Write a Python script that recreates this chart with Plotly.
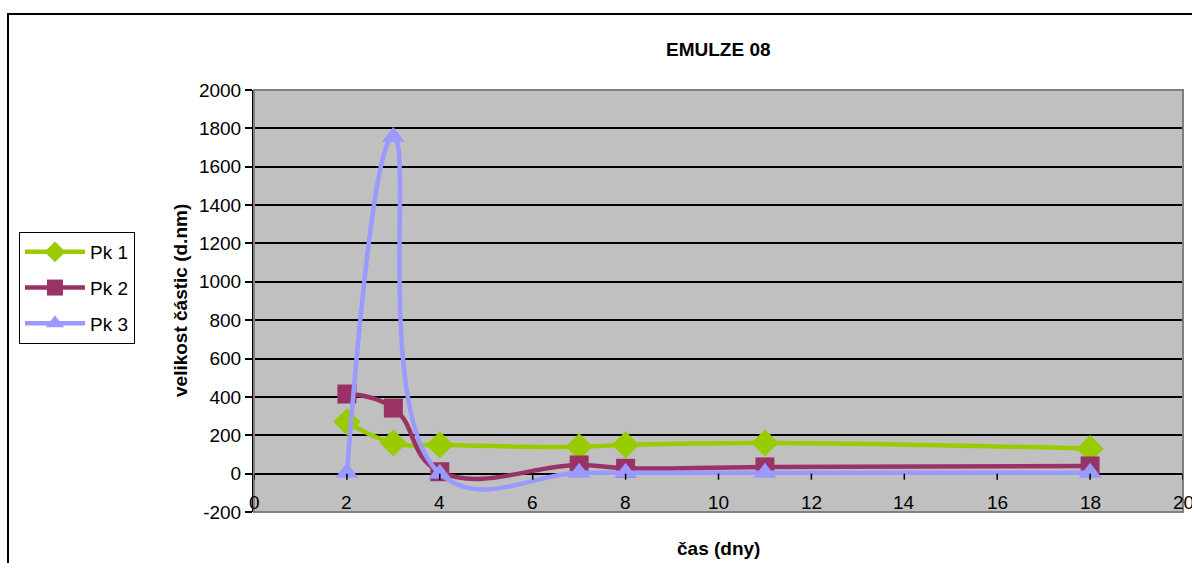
import plotly.graph_objects as go

# Measurement days and particle sizes per peak
days = [2, 3, 4, 7, 8, 11, 18]
pk1 = [270, 160, 150, 140, 150, 160, 130]
pk2 = [415, 342, 10, 45, 28, 35, 40]
pk3 = [5, 1755, 0, 5, 5, 5, 5]

series_names = ["Pk 1", "Pk 2", "Pk 3"]
series_colors = ["#99CC00", "#993366", "#9999FF"]
series_symbols = ["diamond", "square", "triangle-up"]
series_sizes = [21, 19, 20]

x_ticks = list(range(0, 21, 2))
x_labels = [str(v) for v in x_ticks]
y_ticks = list(range(-200, 2001, 200))
y_labels = [str(v) for v in y_ticks]

FONT = "Liberation Sans, Arial, sans-serif"
FS = 19

fig = go.Figure()
for name, vals, col, sym, sz in zip(series_names, [pk1, pk2, pk3],
                                    series_colors, series_symbols, series_sizes):
    fig.add_trace(go.Scatter(
        x=days, y=vals, name=name, mode="lines+markers", legendgroup=name,
        line=dict(color=col, width=4.5, shape="spline", smoothing=1.3),
        marker=dict(color=col, symbol=sym, size=sz, line=dict(width=0)),
    ))

shapes = []
# gray frame around the plot area
shapes.append(dict(type="rect", xref="paper", yref="paper", x0=0, x1=1, y0=0, y1=1,
                   line=dict(color="#808080", width=2), layer="above"))
# outer chart border
shapes.append(dict(type="rect", xref="paper", yref="paper",
                   x0=-0.2648, x1=1.2, y0=-0.3, y1=1.180,
                   line=dict(color="black", width=2)))
# small tick marks on the zero line
for t in x_ticks:
    shapes.append(dict(type="line", xref="x", yref="y", x0=t, x1=t,
                       ysizemode="pixel", yanchor=0, y0=0, y1=-6,
                       line=dict(color="black", width=1.5), layer="above"))

annotations = [
    dict(text="<b>EMULZE 08</b>", xref="paper", yref="paper",
         x=0.5, y=(512 - 50) / 422, showarrow=False,
         font=dict(family=FONT, size=FS), xanchor="center", yanchor="middle"),
    dict(text="<b>čas (dny)</b>", xref="paper", yref="paper",
         x=0.5, y=(512 - 548) / 422, showarrow=False,
         font=dict(family=FONT, size=FS), xanchor="center", yanchor="middle"),
    dict(text="<b>velikost částic (d.nm)</b>", xref="paper", yref="paper",
         x=(180 - 254) / 929, y=0.5, showarrow=False, textangle=-90,
         font=dict(family=FONT, size=FS), xanchor="center", yanchor="middle"),
]
# x tick labels sit just inside the bottom edge of the plot area
for t, lab in zip(x_ticks, x_labels):
    annotations.append(dict(text=lab, xref="x", yref="paper", x=t, y=0,
                            yshift=-3, showarrow=False, xanchor="center",
                            yanchor="bottom", font=dict(family=FONT, size=FS)))

fig.update_layout(
    width=1192, height=563,
    margin=dict(l=254, r=9, t=90, b=51),
    paper_bgcolor="white", plot_bgcolor="#C0C0C0",
    font=dict(family=FONT, size=FS, color="black"),
    showlegend=True,
    legend=dict(x=-0.253, y=0.6635, xanchor="left", yanchor="top",
                bgcolor="white", bordercolor="black", borderwidth=1,
                font=dict(family=FONT, size=FS), tracegroupgap=8,
                itemwidth=60),
    shapes=shapes,
    annotations=annotations,
)

fig.update_xaxes(range=[0, 20], tickvals=x_ticks, showticklabels=False, ticks="",
                 showgrid=False, zeroline=False, showline=False)
fig.update_yaxes(range=[-200, 2000], tickvals=y_ticks, ticktext=y_labels,
                 ticks="outside", ticklen=7, tickwidth=1.5, tickcolor="black",
                 showgrid=True, gridcolor="black", gridwidth=2,
                 zeroline=False, showline=True, linecolor="black", linewidth=2,
                 tickfont=dict(family=FONT, size=FS))

fig.write_html("out.html")
